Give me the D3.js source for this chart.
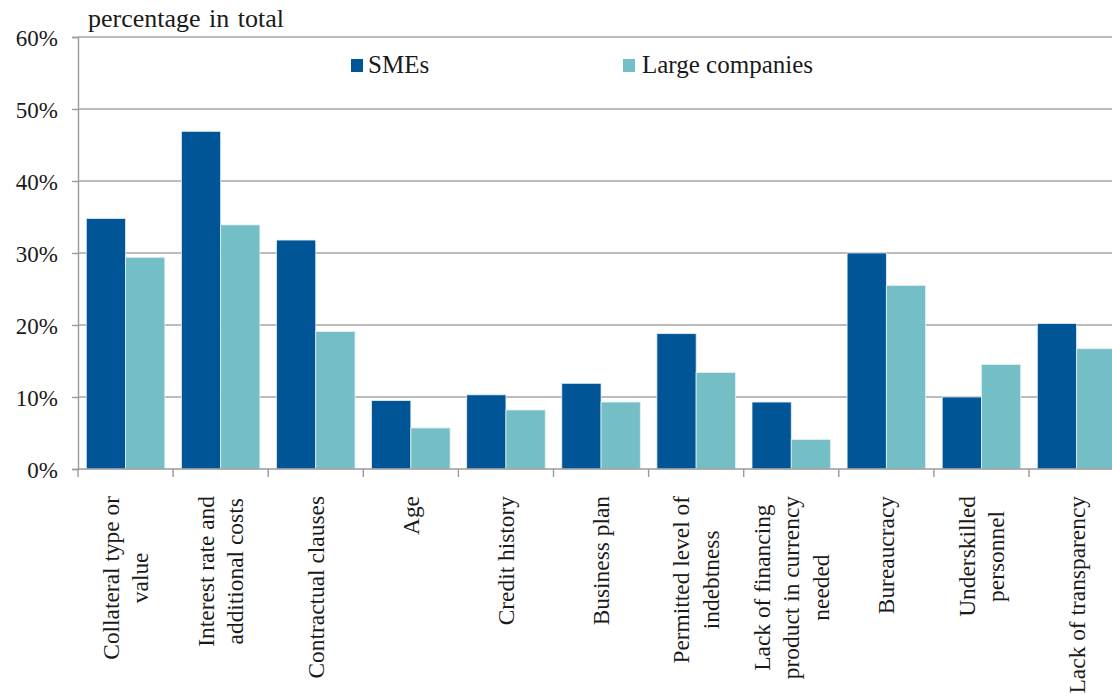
<!DOCTYPE html>
<html>
<head>
<meta charset="utf-8">
<script src="https://cdn.jsdelivr.net/npm/d3@7/dist/d3.min.js"></script>
<style>
  html, body { margin: 0; padding: 0; background: #fff; }
  svg { display: block; }
</style>
</head>
<body>
<svg id="chart" width="1112" height="694"></svg>
<script>
// Obstacles to obtaining financing, share of respondents (%)
const categories = [
  ["Collateral type or", "value"],
  ["Interest rate and", "additional costs"],
  ["Contractual clauses"],
  ["Age"],
  ["Credit history"],
  ["Business plan"],
  ["Permitted level of", "indebtness"],
  ["Lack of financing", "product in currency", "needed"],
  ["Bureaucracy"],
  ["Underskilled", "personnel"],
  ["Lack of transparency"]
];
const seriesNames = ["SMEs", "Large companies"];
const smes =  [34.8, 46.9, 31.8, 9.5, 10.3, 11.9, 18.8, 9.3, 30.0, 10.0, 20.2];
const large = [29.4, 33.9, 19.1, 5.7, 8.2, 9.3, 13.4, 4.1, 25.5, 14.5, 16.7];
const yTicks = [0, 10, 20, 30, 40, 50, 60];
const colors = ["#005596", "#74bfc6"];

const FONT = "'Liberation Serif', 'Times New Roman', Tinos, 'DejaVu Serif', serif";
const svg = d3.select("#chart").style("font-family", FONT);
const W = 1112;
const plotLeft = 78, plotTop = 37, plotBottom = 469;
const step = 95.1;
const plotRight = plotLeft + step * categories.length;

const y = d3.scaleLinear().domain([0, 60]).range([plotBottom, plotTop]);
const x0 = d3.scaleBand().domain(d3.range(categories.length)).range([plotLeft, plotRight]).padding(0);
const x1 = d3.scaleBand().domain([0, 1]).range([8.3, step - 8.3]).padding(0);

// horizontal gridlines
svg.append("g")
  .selectAll("line")
  .data(yTicks.filter(d => d > 0))
  .join("line")
  .attr("x1", plotLeft).attr("x2", W)
  .attr("y1", d => y(d)).attr("y2", d => y(d))
  .attr("stroke", "#a6a6a6").attr("stroke-width", 1.4);

// bars
const rows = categories.map((c, i) => [smes[i], large[i]]);
const groups = svg.append("g").selectAll("g")
  .data(rows)
  .join("g")
  .attr("transform", (d, i) => `translate(${x0(i)},0)`);
groups.selectAll("rect")
  .data(d => d.map((v, s) => ({ v, s })))
  .join("rect")
  .attr("x", d => x1(d.s))
  .attr("width", x1.bandwidth())
  .attr("y", d => y(d.v))
  .attr("height", d => y(0) - y(d.v))
  .attr("fill", d => colors[d.s])
  .attr("stroke", "#e4eef6")
  .attr("stroke-width", 0.8);

// y axis
const yAxis = d3.axisLeft(y).tickValues(yTicks).tickSize(6).tickFormat(d => d + "%");
const ya = svg.append("g").attr("transform", `translate(${plotLeft},0)`).call(yAxis)
  .attr("font-family", FONT).attr("font-size", 23);
ya.select(".domain").attr("stroke", "#9a9a9a").attr("stroke-width", 1.4);
ya.selectAll(".tick line").attr("stroke", "#9a9a9a").attr("stroke-width", 1.4);
ya.selectAll(".tick text")
  .attr("x", -20).attr("dy", "0.36em")
  .attr("fill", "#1a1a1a");

// x axis baseline and category ticks
svg.append("line")
  .attr("x1", plotLeft).attr("x2", W)
  .attr("y1", plotBottom).attr("y2", plotBottom)
  .attr("stroke", "#9a9a9a").attr("stroke-width", 1.4);
svg.append("g").selectAll("line")
  .data(d3.range(categories.length + 1))
  .join("line")
  .attr("x1", i => plotLeft + i * step).attr("x2", i => plotLeft + i * step)
  .attr("y1", plotBottom).attr("y2", plotBottom + 8)
  .attr("stroke", "#9a9a9a").attr("stroke-width", 1.4);

// rotated category labels
const lineGap = 29.5;
const labelTop = 496;
const lab = svg.append("g").selectAll("g")
  .data(categories)
  .join("g")
  .attr("transform", (d, i) => `translate(${x0(i) + step / 2},0) rotate(-90)`);
lab.each(function (lines) {
  const g = d3.select(this);
  const texts = lines.map((t, k) => g.append("text")
    .attr("text-anchor", "middle")
    .attr("font-family", FONT)
    .attr("font-size", 23.4)
    .attr("fill", "#1a1a1a")
    .attr("y", (k - (lines.length - 1) / 2) * lineGap + 8)
    .text(t));
  const maxLen = d3.max(texts, t => t.node().getComputedTextLength());
  texts.forEach(t => t.attr("x", -(labelTop + maxLen / 2)));
});

// axis title
svg.append("text")
  .attr("x", 88).attr("y", 27)
  .attr("font-family", FONT).attr("font-size", 26).attr("fill", "#1a1a1a")
  .attr("word-spacing", 2)
  .text("percentage in total");

// legend
const legendX = [351, 623];
const leg = svg.append("g").selectAll("g")
  .data(seriesNames)
  .join("g")
  .attr("transform", (d, i) => `translate(${legendX[i]},0)`);
leg.append("rect")
  .attr("x", 0).attr("y", 59).attr("width", 12).attr("height", 13)
  .attr("fill", (d, i) => colors[i]);
leg.append("text")
  .attr("x", (d, i) => i === 0 ? 17 : 19).attr("y", 73)
  .attr("font-family", FONT).attr("font-size", 25).attr("fill", "#1a1a1a")
  .text(d => d);
</script>
</body>
</html>
